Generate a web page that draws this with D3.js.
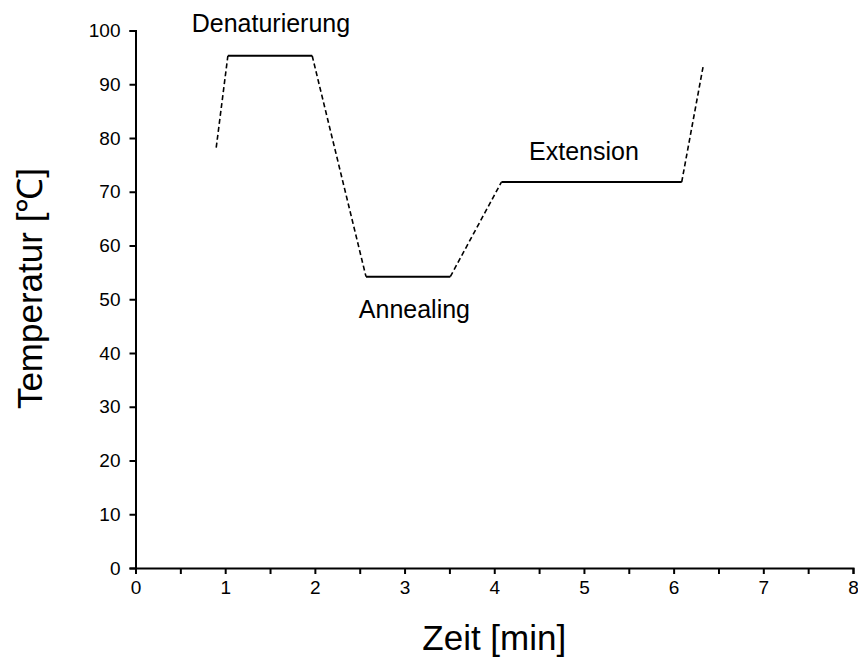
<!DOCTYPE html>
<html>
<head>
<meta charset="utf-8">
<script src="https://cdn.jsdelivr.net/npm/d3@7"></script>
<style>
  html, body { margin: 0; padding: 0; background: #fff; }
  svg { display: block; font-family: Arial, "Liberation Sans", sans-serif; }
</style>
</head>
<body>
<svg id="chart" width="858" height="657"></svg>
<script>
// PCR temperature cycle: time in minutes vs. temperature in °C
const rampSegments = [
  [[0.9, 78.2], [1.03, 95.3]],
  [[1.97, 95.3], [2.57, 54.2]],
  [[3.51, 54.2], [4.08, 71.8]],
  [[6.09, 71.8], [6.33, 93.4]]
];
const holdSegments = [
  [[1.03, 95.3], [1.97, 95.3]],
  [[2.57, 54.2], [3.51, 54.2]],
  [[4.08, 71.8], [6.09, 71.8]]
];
const phaseLabels = ["Denaturierung", "Annealing", "Extension"];
const phaseLabelPos = [[1.51, 99.7], [3.11, 46.5], [5.0, 75.9]];
const xTicks = [0, 1, 2, 3, 4, 5, 6, 7, 8];
const xMinorTicks = [0.5, 1.5, 2.5, 3.5, 4.5, 5.5, 6.5, 7.5];
const yTicks = [0, 10, 20, 30, 40, 50, 60, 70, 80, 90, 100];

const svg = d3.select("#chart");
const x = d3.scaleLinear().domain([0, 8]).range([135.5, 853]);
const y = d3.scaleLinear().domain([0, 100]).range([568, 30.5]);

const line = d3.line().x(d => x(d[0])).y(d => y(d[1]));

// axes
const xAxis = svg.append("g").attr("transform", `translate(0,${y(0)})`)
  .call(d3.axisBottom(x).tickValues(xTicks).tickFormat(d3.format("d")).tickSize(6).tickPadding(7));
const xMinor = svg.append("g").attr("transform", `translate(0,${y(0)})`)
  .call(d3.axisBottom(x).tickValues(xMinorTicks).tickFormat("").tickSize(6));
const yAxis = svg.append("g").attr("transform", `translate(${x(0)},0)`)
  .call(d3.axisLeft(y).tickValues(yTicks).tickFormat(d3.format("d")).tickSize(6).tickPadding(9));

[xAxis, xMinor, yAxis].forEach(g => {
  g.attr("font-family", null).attr("font-size", null);
  g.select(".domain").attr("stroke", "#000").attr("stroke-width", 2);
  g.selectAll(".tick line").attr("stroke", "#000").attr("stroke-width", 2);
  g.selectAll(".tick text").attr("fill", "#000").style("font-size", "19px");
});
xMinor.select(".domain").remove();

// curve
svg.append("g").selectAll("path.ramp").data(rampSegments).join("path")
  .attr("class", "ramp").attr("d", line)
  .attr("fill", "none").attr("stroke", "#000").attr("stroke-width", 1.6)
  .attr("stroke-dasharray", "5,3");
svg.append("g").selectAll("path.hold").data(holdSegments).join("path")
  .attr("class", "hold").attr("d", line)
  .attr("fill", "none").attr("stroke", "#000").attr("stroke-width", 2);

// phase labels
svg.append("g").selectAll("text").data(phaseLabels).join("text")
  .attr("x", (d, i) => x(phaseLabelPos[i][0]))
  .attr("y", (d, i) => y(phaseLabelPos[i][1]))
  .attr("text-anchor", "middle")
  .style("font-size", "25px")
  .text(d => d);

// axis titles
svg.append("text")
  .attr("x", x(4)).attr("y", 650)
  .attr("text-anchor", "middle")
  .style("font-size", "35px")
  .text("Zeit [min]");
svg.append("text")
  .attr("transform", `translate(42,288.5) rotate(-90)`)
  .attr("text-anchor", "middle")
  .style("font-size", "35px")
  .text("Temperatur [\u2103]");
</script>
</body>
</html>
